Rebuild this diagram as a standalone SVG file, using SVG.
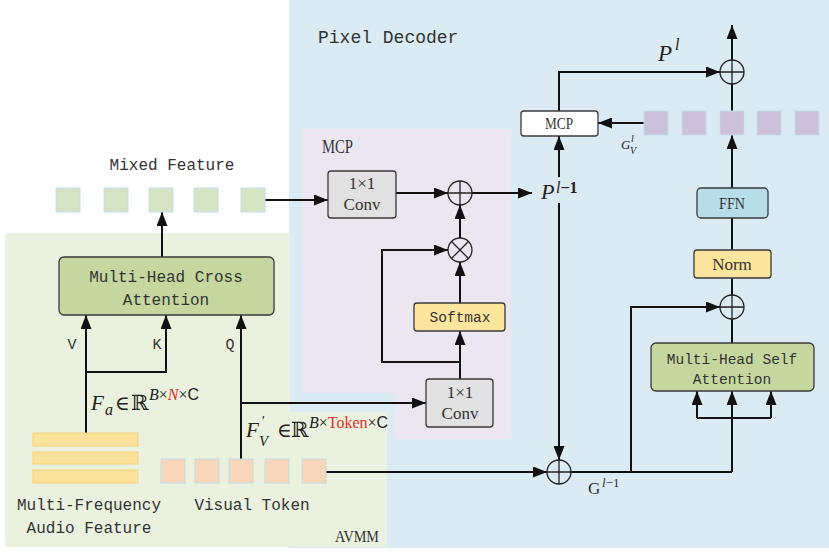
<svg xmlns="http://www.w3.org/2000/svg" width="829" height="552" viewBox="0 0 829 552">
<style>
.ln{stroke:#111;stroke-width:2;fill:none}
.arr{stroke:#111;stroke-width:2;fill:none;marker-end:url(#ah)}
.box{stroke:#3a3a3a;stroke-width:1.3}
.op{fill:none;stroke:#222;stroke-width:1.3}
.mono{font-family:"Liberation Mono","DejaVu Sans Mono",monospace;fill:#333}
.ser{font-family:"Liberation Serif","DejaVu Serif",serif;fill:#333}
.math{font-family:"Liberation Serif","DejaVu Serif",serif;fill:#222}
.sans{font-family:"Liberation Sans","DejaVu Sans",sans-serif}
.gsq{fill:#d5e4c3;stroke:#c3dde6;stroke-width:1}
.tok{fill:#f9d5ba;stroke:#c3dde6;stroke-width:1}
.psq{fill:#cdc0db;stroke:#c3dde6;stroke-width:1}
.bar{fill:#fbe29a;stroke:#f4d37a;stroke-width:1}
.red{fill:#e0302a}
</style>
<defs>
<marker id="ah" markerWidth="14" markerHeight="11" refX="14" refY="5.5" orient="auto" markerUnits="userSpaceOnUse"><path d="M0,0 L14,5.5 L0,11 z" fill="#111"/></marker>
</defs>
<rect width="829" height="552" fill="#ffffff"/>
<g id="bg-pixel-decoder">
<rect x="289" y="0" width="540" height="548" fill="#dbebf3"/>
<text class="mono" x="318" y="43" font-size="18">Pixel Decoder</text>
</g>
<g id="bg-avmm">
<path d="M9,233 H290 V412 H387 V547 H9 Q5,547 5,543 V237 Q5,233 9,233 Z" fill="#ebf1df"/>
<text class="ser" x="335" y="542" font-size="17" textLength="44" lengthAdjust="spacingAndGlyphs">AVMM</text>
</g>
<g id="bg-mcp">
<path d="M302,129 H511 V439 H395 V393 H302 Z" fill="#ece6f0"/>
<text class="ser" x="322" y="153" font-size="18" textLength="31" lengthAdjust="spacingAndGlyphs">MCP</text>
</g>
<g id="connectors">
<line class="arr" x1="162" y1="257" x2="162" y2="212"/>
<line class="arr" x1="86" y1="433" x2="86" y2="315"/>
<polyline class="arr" points="86,372 166,372 166,315"/>
<line class="arr" x1="241" y1="459" x2="241" y2="315"/>
<line class="arr" x1="241" y1="403" x2="426" y2="403"/>
<line class="arr" x1="265" y1="200" x2="328" y2="200"/>
<line class="arr" x1="396" y1="193" x2="448" y2="193"/>
<line class="arr" x1="472" y1="193" x2="532" y2="193"/>
<line class="arr" x1="460" y1="238" x2="460" y2="205"/>
<line class="arr" x1="460" y1="303" x2="460" y2="262"/>
<line class="arr" x1="460" y1="379" x2="460" y2="331"/>
<polyline class="arr" points="460,362 382,362 382,250 448,250"/>
<line class="arr" x1="326" y1="472" x2="547" y2="472"/>
<line class="arr" x1="559" y1="203" x2="559" y2="460"/>
<line class="arr" x1="559" y1="177" x2="559" y2="136"/>
<polyline class="arr" points="559,111 559,72 720,72"/>
<line class="arr" x1="732" y1="60" x2="732" y2="25"/>
<line class="arr" x1="644" y1="123" x2="598" y2="123"/>
<line class="ln" x1="732" y1="84" x2="732" y2="111"/>
<line class="arr" x1="732" y1="188" x2="732" y2="135"/>
<line class="ln" x1="732" y1="218" x2="732" y2="250"/>
<line class="ln" x1="732" y1="278" x2="732" y2="295"/>
<line class="ln" x1="732" y1="319" x2="732" y2="343"/>
<polyline class="arr" points="631,472 631,307 720,307"/>
<line class="ln" x1="571" y1="472" x2="732" y2="472"/>
<line class="arr" x1="732" y1="472" x2="732" y2="391"/>
<line class="ln" x1="697" y1="418" x2="771" y2="418"/>
<line class="arr" x1="697" y1="418" x2="697" y2="391"/>
<line class="arr" x1="771" y1="418" x2="771" y2="391"/>
</g>
<g id="mixed-feature">
<text class="mono" x="172" y="170" font-size="16" text-anchor="middle">Mixed Feature</text>
<rect class="gsq" x="56" y="188" width="24" height="24"/>
<rect class="gsq" x="104" y="188" width="24" height="24"/>
<rect class="gsq" x="149" y="188" width="24" height="24"/>
<rect class="gsq" x="194" y="188" width="24" height="24"/>
<rect class="gsq" x="241" y="188" width="24" height="24"/>
</g>
<g id="cross-attention">
<rect class="box" x="59" y="257" width="215" height="58" rx="5" fill="#c5d79f"/>
<text class="mono" x="166" y="282" font-size="16" text-anchor="middle">Multi-Head Cross</text>
<text class="mono" x="166" y="305" font-size="16" text-anchor="middle">Attention</text>
</g>
<g id="vkq-labels">
<text class="mono" x="72" y="349" font-size="15" text-anchor="middle">V</text>
<text class="mono" x="157" y="349" font-size="15" text-anchor="middle">K</text>
<text class="mono" x="230" y="349" font-size="15" text-anchor="middle">Q</text>
</g>
<g id="fa-label">
<text class="math" x="91" y="410" font-size="21" font-style="italic">F</text>
<text class="math" x="105" y="415" font-size="16" font-style="italic">a</text>
<text class="math" x="115" y="410" font-size="20">∈</text>
<text class="math" x="131" y="410" font-size="21">ℝ</text>
<text class="math" x="149" y="400" font-size="16"><tspan font-style="italic">B</tspan>×<tspan class="red" font-style="italic">N</tspan>×<tspan class="sans">C</tspan></text>
</g>
<g id="audio-feature">
<rect class="bar" x="33" y="433" width="105" height="13"/>
<rect class="bar" x="33" y="452" width="105" height="12"/>
<rect class="bar" x="33" y="470" width="105" height="13"/>
<text class="mono" x="89" y="510" font-size="16" text-anchor="middle">Multi-Frequency</text>
<text class="mono" x="89" y="533" font-size="16" text-anchor="middle">Audio Feature</text>
</g>
<g id="fv-label">
<text class="math" x="246" y="437" font-size="21" font-style="italic">F</text>
<text class="math" x="261" y="426" font-size="14" font-style="italic">′</text>
<text class="math" x="259" y="446" font-size="15" font-style="italic">V</text>
<text class="math" x="277" y="437" font-size="20">∈</text>
<text class="math" x="291" y="437" font-size="21">ℝ</text>
<text class="math" x="309" y="428" font-size="16"><tspan font-style="italic">B</tspan>×<tspan class="red">Token</tspan>×<tspan class="sans">C</tspan></text>
</g>
<g id="visual-token">
<rect class="tok" x="161" y="459" width="24" height="24"/>
<rect class="tok" x="195" y="459" width="24" height="24"/>
<rect class="tok" x="229" y="459" width="24" height="24"/>
<rect class="tok" x="265" y="459" width="24" height="24"/>
<rect class="tok" x="302" y="459" width="24" height="24"/>
<text class="mono" x="252" y="510" font-size="16" text-anchor="middle">Visual Token</text>
</g>
<g id="conv1">
<rect class="box" x="328" y="171" width="68" height="47" rx="3" fill="#e1e1e1" stroke="#555"/>
<text class="ser" x="362" y="189" font-size="17" text-anchor="middle">1×1</text>
<text class="ser" x="362" y="210" font-size="17" text-anchor="middle">Conv</text>
</g>
<g id="add-mcp">
<circle class="op" cx="460" cy="193" r="12"/>
<path class="op" d="M448,193 H472 M460,181 V205"/>
</g>
<g id="mul-mcp">
<circle class="op" cx="460" cy="250" r="12"/>
<path class="op" d="M451.5,241.5 L468.5,258.5 M468.5,241.5 L451.5,258.5"/>
</g>
<g id="softmax">
<rect class="box" x="414" y="303" width="91" height="28" rx="3" fill="#fde59d"/>
<text class="mono" x="460" y="322" font-size="14.5" text-anchor="middle">Softmax</text>
</g>
<g id="conv2">
<rect class="box" x="426" y="379" width="67" height="48" rx="3" fill="#e1e1e1" stroke="#555"/>
<text class="ser" x="460" y="398" font-size="17" text-anchor="middle">1×1</text>
<text class="ser" x="460" y="419" font-size="17" text-anchor="middle">Conv</text>
</g>
<g id="p-l-1-label">
<text class="math" x="541" y="199" font-size="22" font-style="italic">P</text>
<text class="math" x="556" y="193" font-size="16"><tspan font-style="italic">l</tspan><tspan font-weight="bold">−1</tspan></text>
</g>
<g id="mcp-box">
<rect class="box" x="521" y="111" width="77" height="25" rx="3" fill="#ffffff"/>
<text class="ser" x="559" y="129" font-size="16" text-anchor="middle" textLength="28" lengthAdjust="spacingAndGlyphs">MCP</text>
</g>
<g id="p-l-label">
<text class="math" x="658" y="61" font-size="23" font-style="italic">P</text>
<text class="math" x="675" y="50" font-size="16" font-style="italic">l</text>
</g>
<g id="add-top">
<circle class="op" cx="732" cy="72" r="12"/>
<path class="op" d="M720,72 H744 M732,60 V84"/>
</g>
<g id="gvl-tokens">
<rect class="psq" x="644" y="111" width="24" height="24"/>
<rect class="psq" x="682" y="111" width="24" height="24"/>
<rect class="psq" x="720" y="111" width="24" height="24"/>
<rect class="psq" x="757" y="111" width="24" height="24"/>
<rect class="psq" x="795" y="111" width="24" height="24"/>
<text class="math" x="621" y="149" font-size="13" font-style="italic">G</text>
<text class="math" x="631" y="142" font-size="10" font-style="italic">l</text>
<text class="math" x="630" y="154" font-size="10" font-style="italic">V</text>
</g>
<g id="ffn">
<rect class="box" x="697" y="188" width="71" height="30" rx="4" fill="#b7dde9"/>
<text class="ser" x="732" y="209" font-size="16" text-anchor="middle" textLength="26" lengthAdjust="spacingAndGlyphs">FFN</text>
</g>
<g id="norm">
<rect class="box" x="694" y="250" width="77" height="28" rx="3" fill="#fde59d"/>
<text class="ser" x="732" y="270" font-size="17" text-anchor="middle">Norm</text>
</g>
<g id="add-norm">
<circle class="op" cx="732" cy="307" r="12"/>
<path class="op" d="M720,307 H744 M732,295 V319"/>
</g>
<g id="self-attention">
<rect class="box" x="651" y="343" width="163" height="48" rx="5" fill="#c5d79f"/>
<text class="mono" x="732" y="364" font-size="14.5" text-anchor="middle">Multi-Head Self</text>
<text class="mono" x="732" y="384" font-size="14.5" text-anchor="middle">Attention</text>
</g>
<g id="add-bottom">
<circle class="op" cx="559" cy="472" r="12"/>
<path class="op" d="M547,472 H571 M559,460 V484"/>
</g>
<g id="g-l-1-label">
<text class="ser" x="588" y="494" font-size="17">G</text>
<text class="ser" x="602" y="487" font-size="13"><tspan font-style="italic">l</tspan>−1</text>
</g>
</svg>
